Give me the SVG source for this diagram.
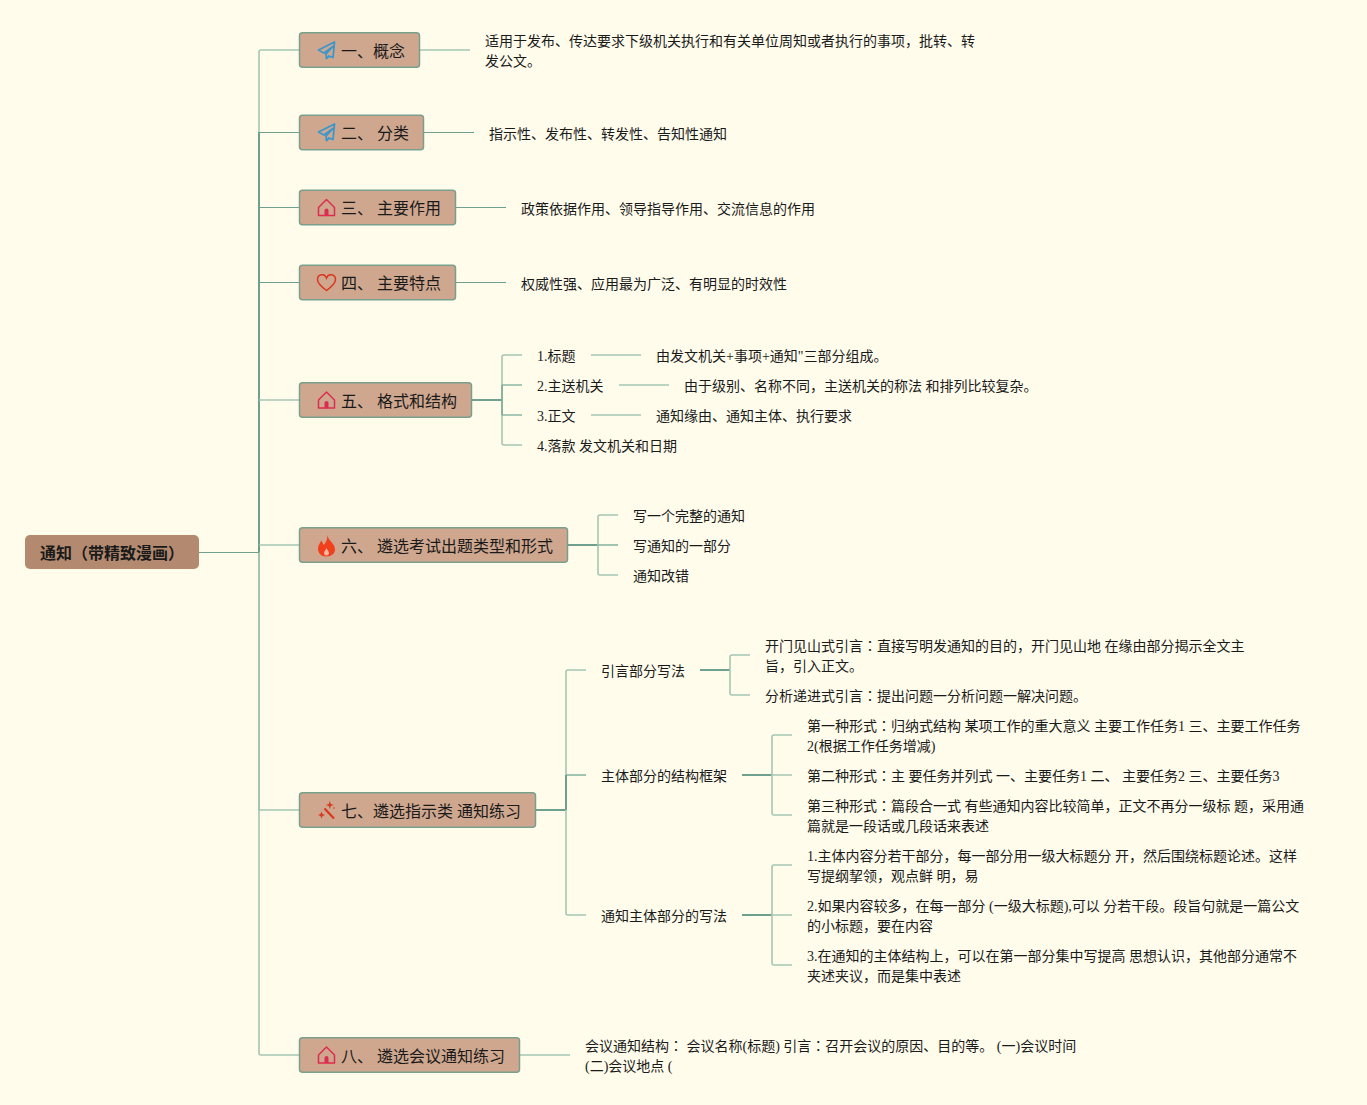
<svg xmlns="http://www.w3.org/2000/svg" width="1367" height="1105" viewBox="0 0 1367 1105">
<style>
text{font-family:"Liberation Serif","Noto Sans CJK SC",serif;fill:#1a1a1a}
.j{font-family:"Noto Sans CJK JP",sans-serif}
.t{font-size:14px}
.m{font-size:16px}
.r{font-size:16px;font-weight:bold}
.b{fill:#cfa78f;stroke:#7a9f8d;stroke-width:1.5}
.c{fill:none;stroke:#6f9f8e;stroke-width:1.2}
.l{fill:none;stroke:#a5c6b2;stroke-width:1.6}
.d{fill:none;stroke:#6f9f8e;stroke-width:2}
.n{fill:none;stroke:#8cb5a3;stroke-width:1.6}
.plane{fill:none;stroke:#3b97c9;stroke-width:1.8;stroke-linejoin:round}
.home{fill:none;stroke:#dd2c50;stroke-width:1.5;stroke-linejoin:round}
</style>
<defs>
<g id="plane"><path class="plane" d="M16.500 0L0.500 8L6 11L15 4.500L8 12L8.500 16.500L11 14L15 15.500Z"/></g>
<g id="home"><path class="home" d="M0 8L8 0L16 8V16H0Z"/><path d="M6 16V11a2 2 0 0 1 4 0V16Z" fill="#dd2c50"/></g>
</defs>
<rect width="1367" height="1105" fill="#fffcec"/>
<g id="connectors">
<path class="l" d="M259 132V52Q259 50 261 50H299"/>
<path class="l" d="M259 810V1053Q259 1055 261 1055H299"/>
<path class="n" d="M259 552V810"/>
<path class="d" d="M259 132V552"/>
<path class="c" d="M199 552.500H259M259 132.500H299M259 207.500H299M259 282.500H299"/>
<path class="l" d="M259 400H299M259 545H299M259 810H299"/>
<path class="l" d="M420 50H470M520 1055H570"/>
<path class="c" d="M424 132.500H474M456 207.500H506M456 282.500H506"/>
<path class="d" d="M472 400H502M568 545H598M536 810H566"/>
<path class="l" d="M522 355H504Q502 355 502 357V443Q502 445 504 445H522"/>
<path class="n" d="M502 385H522M502 415H522"/>
<path class="c" d="M502 385V415"/>
<path class="l" d="M591 355H641M619 385H669M591 415H641"/>
<path class="l" d="M618 515H600Q598 515 598 517V573Q598 575 600 575H618"/>
<path class="n" d="M598 545H618"/>
<path class="l" d="M586 670H568Q566 670 566 672V913Q566 915 568 915H586"/>
<path class="n" d="M566 775H586"/>
<path class="d" d="M566 775V810"/>
<path class="d" d="M700 670H730M742 775H772M742 915H772"/>
<path class="l" d="M750 655H732Q730 655 730 657V693Q730 695 732 695H750"/>
<path class="l" d="M792 735H774Q772 735 772 737V813Q772 815 774 815H792M772 775H792"/>
<path class="l" d="M792 865H774Q772 865 772 867V963Q772 965 774 965H792M772 915H792"/>
</g>
<g id="root"><rect x="25" y="535" width="174" height="34" rx="5" fill="#b38a70"/><text class="r" x="40" y="559">通知（带精致漫画）</text></g>
<g id="n1"><rect class="b" x="299.500" y="32.700" width="120" height="34.600" rx="3"/><use href="#plane" x="318" y="42"/><text class="m" x="341" y="57">一、概念</text></g>
<g id="n1t"><text class="t" x="485" y="46">适用于发布、传达要求下级机关执行和有关单位周知或者执行的事项，批转、转</text><text class="t" x="485" y="66">发公文。</text></g>
<g id="n2"><rect class="b" x="299.500" y="115.200" width="124" height="34.600" rx="3"/><use href="#plane" x="318" y="124"/><text class="m" x="341" y="139">二、 分类</text></g>
<g id="n2t"><text class="t" x="489" y="139">指示性、发布性、转发性、告知性通知</text></g>
<g id="n3"><rect class="b" x="299.500" y="190.200" width="156" height="34.600" rx="3"/><use href="#home" x="318.500" y="199.500"/><text class="m" x="341" y="214">三、 主要作用</text></g>
<g id="n3t"><text class="t" x="521" y="214">政策依据作用、领导指导作用、交流信息的作用</text></g>
<g id="n4"><rect class="b" x="299.500" y="265.200" width="156" height="34.600" rx="3"/><path d="M326.500 290.500C319 285 317.500 282 317.500 279.500C317.500 274.500 324.500 272.500 326.500 278C328.500 272.500 335.500 274.500 335.500 279.500C335.500 282 334 285 326.500 290.500Z" fill="none" stroke="#d9381e" stroke-width="1.500"/><text class="m" x="341" y="289">四、 主要特点</text></g>
<g id="n4t"><text class="t" x="521" y="289">权威性强、应用最为广泛、有明显的时效性</text></g>
<g id="n5"><rect class="b" x="299.500" y="382.700" width="172" height="34.600" rx="3"/><use href="#home" x="318.500" y="392"/><text class="m" x="341" y="407">五、 格式和结构</text></g>
<g id="n51"><text class="t" x="537" y="361">1.标题</text><text class="t" x="656" y="361">由发文机关+事项+通知"三部分组成。</text></g>
<g id="n52"><text class="t" x="537" y="391">2.主送机关</text><text class="t" x="684" y="391">由于级别、名称不同，主送机关的称法 和排列比较复杂。</text></g>
<g id="n53"><text class="t" x="537" y="421">3.正文</text><text class="t" x="656" y="421">通知缘由、通知主体、执行要求</text></g>
<g id="n54"><text class="t" x="537" y="451">4.落款 发文机关和日期</text></g>
<g id="n6"><rect class="b" x="299.500" y="527.700" width="268" height="34.600" rx="3"/><path d="M327.500 535C328 541 335 543 335 549.500C335 553.500 331.500 556.500 326.500 556.500C321 556.500 318 553 318 548.500C318 545 320 543 321.500 540.500C322.500 542.500 323 544 324 545C326 542 327.500 539 327.500 535Z" fill="#f0401c"/><path d="M326.500 548C327 550 329 551 329 553C329 554.500 328 555.500 326.500 555.500C325 555.500 324 554.500 324 553C324 551 326 550 326.500 548Z" fill="#f8b9a0"/><text class="m" x="341" y="552">六、 遴选考试出题类型和形式</text></g>
<g id="n61"><text class="t" x="633" y="521">写一个完整的通知</text></g>
<g id="n62"><text class="t" x="633" y="551">写通知的一部分</text></g>
<g id="n63"><text class="t" x="633" y="581">通知改错</text></g>
<g id="n7"><rect class="b" x="299.500" y="792.700" width="236" height="34.600" rx="3"/><path d="M324.500 808.500L334 818.500" stroke="#d9381e" stroke-width="2.200" fill="none"/><path d="M329.800 801l1 3l3 1l-3 1l-1 3l-1-3l-3-1l3-1ZM321.500 811.500l1 2.500l2.500 1l-2.500 1l-1 2.500l-1-2.500l-2.500-1l2.500-1Z" fill="#d9381e"/><circle cx="334" cy="808" r="0.800" fill="#d9381e"/><text class="m" x="341" y="817">七、遴选指示类 通知练习</text></g>
<g id="n71"><text class="t" x="601" y="676">引言部分写法</text></g>
<g id="n711"><text class="t" x="765" y="651">开门见山式引言<tspan class="j">：</tspan>直接写明发通知的目的，开门见山地 在缘由部分揭示全文主</text><text class="t" x="765" y="671">旨，引入正文。</text></g>
<g id="n712"><text class="t" x="765" y="701">分析递进式引言<tspan class="j">：</tspan>提出问题一分析问题一解决问题。</text></g>
<g id="n72"><text class="t" x="601" y="781">主体部分的结构框架</text></g>
<g id="n721"><text class="t" x="807" y="731">第一种形式<tspan class="j">：</tspan>归纳式结构 某项工作的重大意义 主要工作任务1 三、主要工作任务</text><text class="t" x="807" y="751">2(根据工作任务增减)</text></g>
<g id="n722"><text class="t" x="807" y="781">第二种形式<tspan class="j">：</tspan>主 要任务并列式 一、主要任务1 二、 主要任务2 三、主要任务3</text></g>
<g id="n723"><text class="t" x="807" y="811">第三种形式<tspan class="j">：</tspan>篇段合一式 有些通知内容比较简单，正文不再分一级标 题，采用通</text><text class="t" x="807" y="831">篇就是一段话或几段话来表述</text></g>
<g id="n73"><text class="t" x="601" y="921">通知主体部分的写法</text></g>
<g id="n731"><text class="t" x="807" y="861">1.主体内容分若干部分，每一部分用一级大标题分 开，然后围绕标题论述。这样</text><text class="t" x="807" y="881">写提纲挈领，观点鲜 明，易</text></g>
<g id="n732"><text class="t" x="807" y="911">2.如果内容较多，在每一部分 (一级大标题),可以 分若干段。段旨句就是一篇公文</text><text class="t" x="807" y="931">的小标题，要在内容</text></g>
<g id="n733"><text class="t" x="807" y="961">3.在通知的主体结构上，可以在第一部分集中写提高 思想认识，其他部分通常不</text><text class="t" x="807" y="981">夹述夹议，而是集中表述</text></g>
<g id="n8"><rect class="b" x="299.500" y="1037.700" width="220" height="34.600" rx="3"/><use href="#home" x="318.500" y="1047"/><text class="m" x="341" y="1062">八、 遴选会议通知练习</text></g>
<g id="n8t"><text class="t" x="585" y="1051">会议通知结构<tspan class="j">：</tspan> 会议名称(标题) 引言<tspan class="j">：</tspan>召开会议的原因、目的等。 (一)会议时间</text><text class="t" x="585" y="1071">(二)会议地点 (</text></g>
</svg>
